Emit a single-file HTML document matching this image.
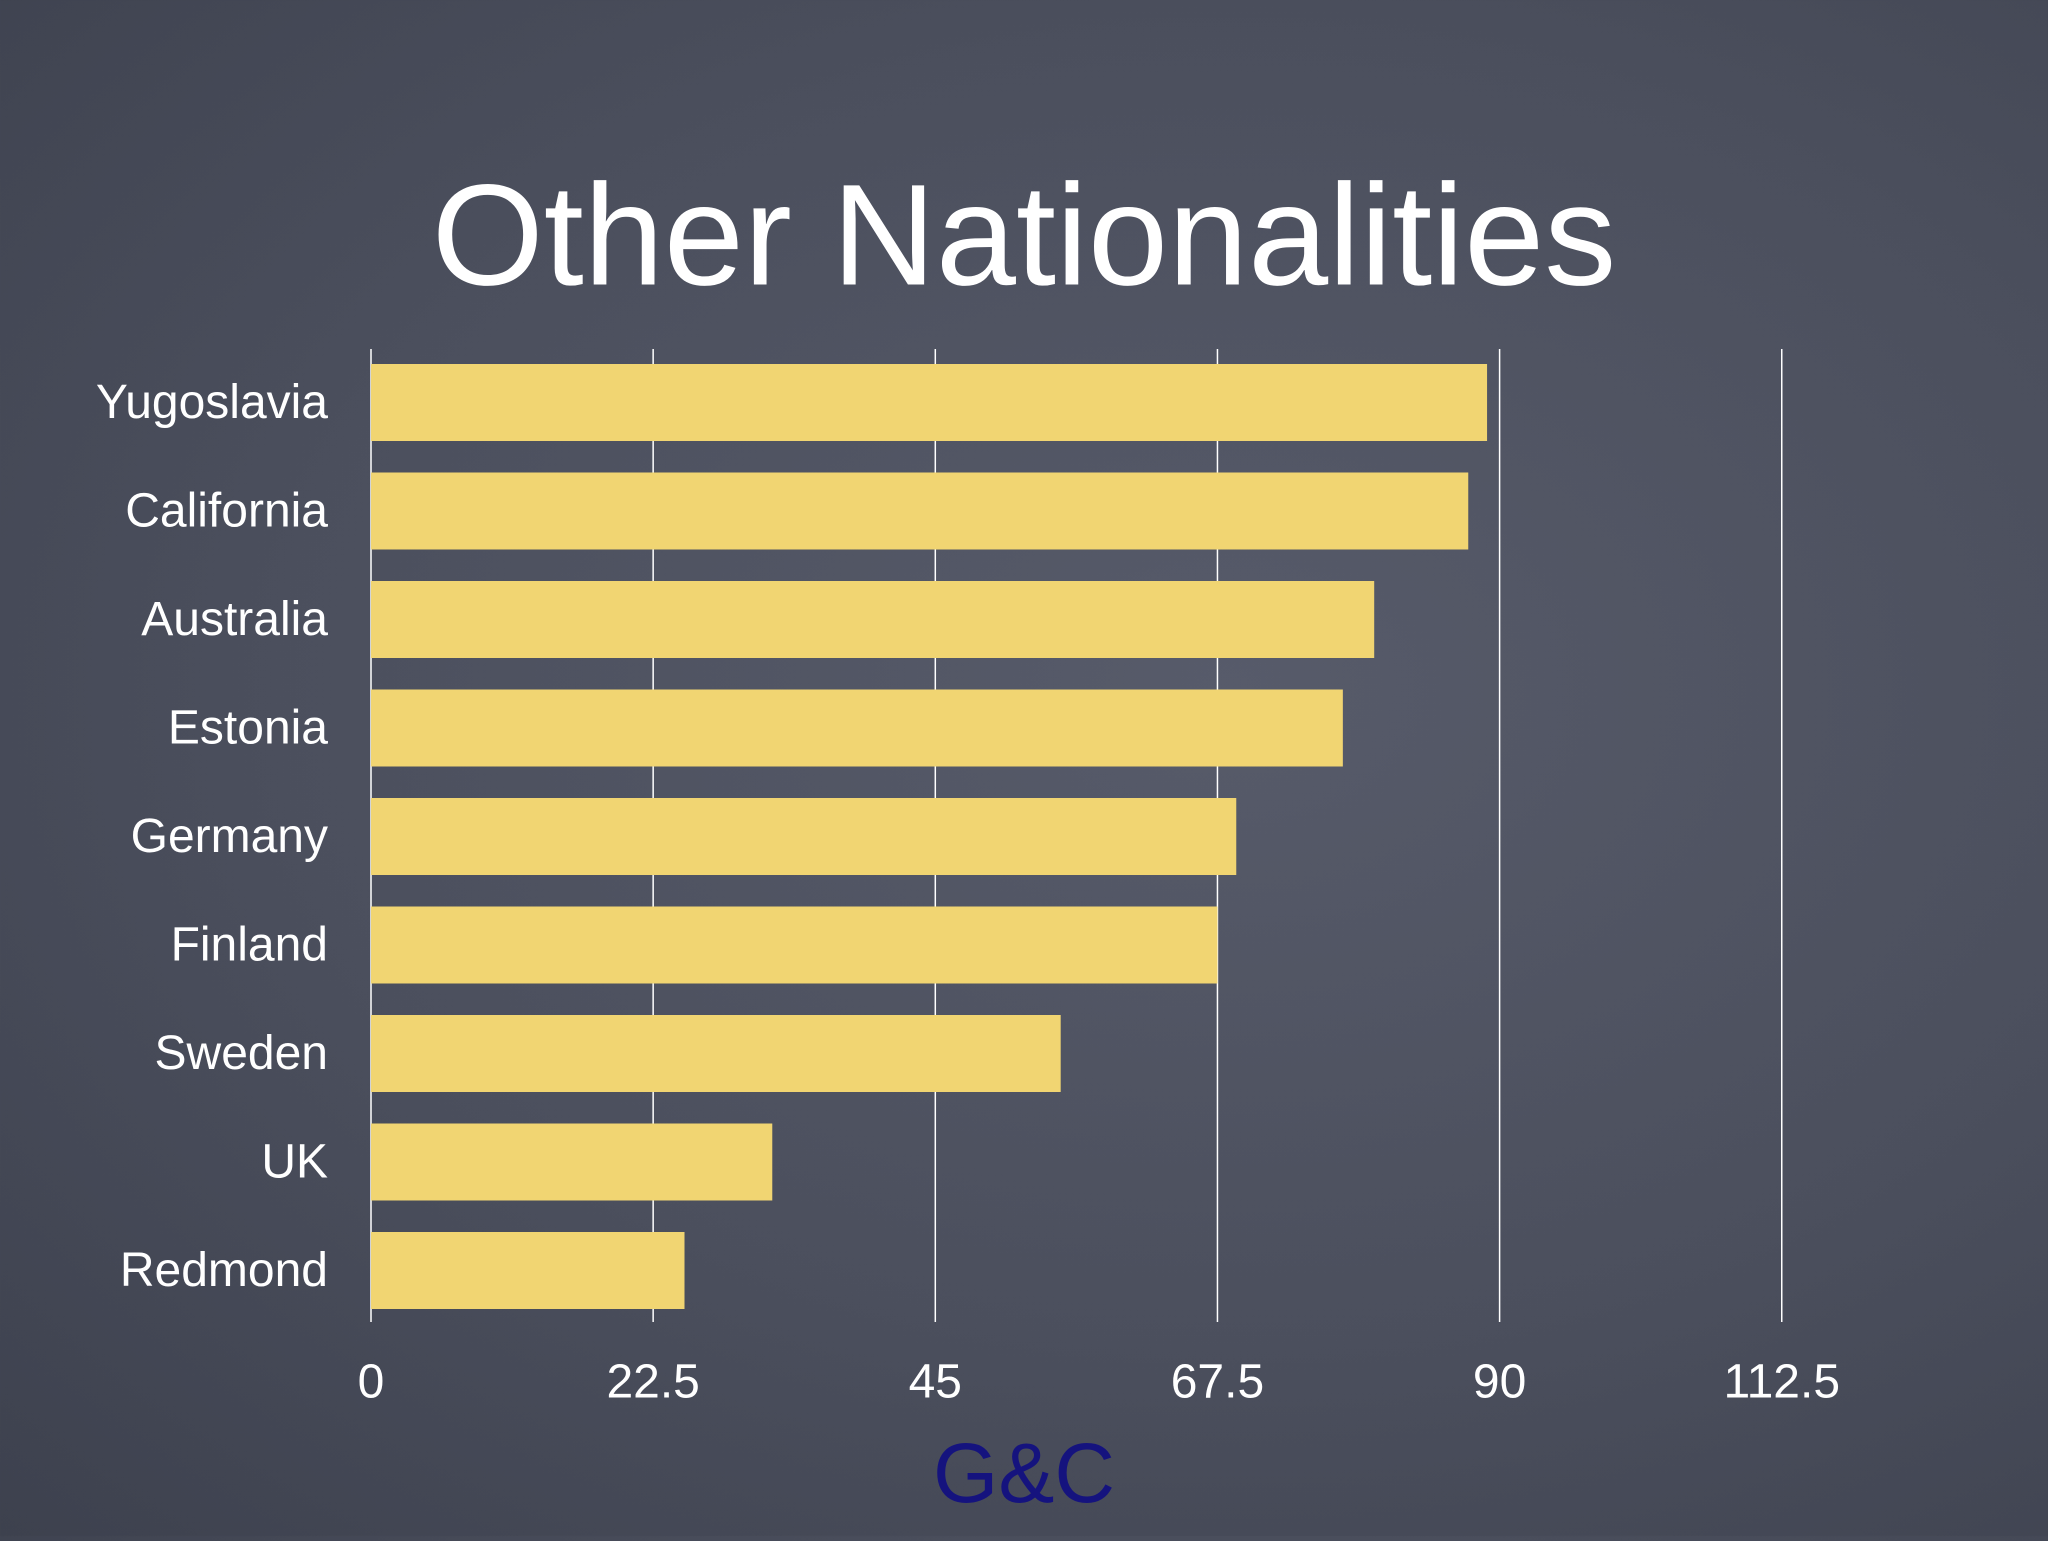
<!DOCTYPE html>
<html><head><meta charset="utf-8"><style>
html,body{margin:0;padding:0}
body{width:2048px;height:1536px;overflow:hidden;background:radial-gradient(ellipse at 60% 45%,#575b6a 0%,#4b4f5d 55%,#3d414e 100%);font-family:"Liberation Sans",sans-serif}
</style></head><body>
<svg width="2048" height="1536" xmlns="http://www.w3.org/2000/svg">
<text x="1024" y="235" font-size="144" fill="#fff" text-anchor="middle" dominant-baseline="central" font-family="Liberation Sans">Other Nationalities</text>
<g id="grid"></g><g id="bars"></g><g id="labels"></g><g id="ticks"></g>
<text x="1024" y="1473" font-size="84" fill="#15137e" text-anchor="middle" dominant-baseline="central" font-family="Liberation Sans">G&amp;C</text>
</svg>
<script>
const categories=["Yugoslavia","California","Australia","Estonia","Germany","Finland","Sweden","UK","Redmond"];
const values=[89,87.5,80,77.5,69,67.5,55,32,25];
const tickValues=[0,22.5,45,67.5,90,112.5];
const tickLabels=["0","22.5","45","67.5","90","112.5"];
const NS="http://www.w3.org/2000/svg";
const x0=371,pxPerUnit=12.54;
const xs=v=>x0+v*pxPerUnit;
const ys=i=>364+i*108.5;
const bh=77;
function mk(t,a,p){const e=document.createElementNS(NS,t);for(const k in a)e.setAttribute(k,a[k]);document.getElementById(p).appendChild(e);return e;}
tickValues.forEach((v,i)=>{
 const l=mk('line',{x1:xs(v),x2:xs(v),y1:349,y2:1322,stroke:'#fff','stroke-width':1.5},'grid');
 
 
 const t=mk('text',{x:xs(v),y:1382,'font-size':48,fill:'#fff','text-anchor':'middle','dominant-baseline':'central'},'ticks');
 t.textContent=tickLabels[i];
 
 
});
categories.forEach((c,i)=>{
 const r=mk('rect',{x:xs(0),y:ys(i),width:xs(values[i])-xs(0),height:bh,fill:'#f1d572'},'bars');
 
 
 const t=mk('text',{x:328,y:ys(i)+bh/2,'font-size':48,fill:'#fff','text-anchor':'end','dominant-baseline':'central'},'labels');
 t.textContent=c;
 
 
});
</script>
</body></html>
